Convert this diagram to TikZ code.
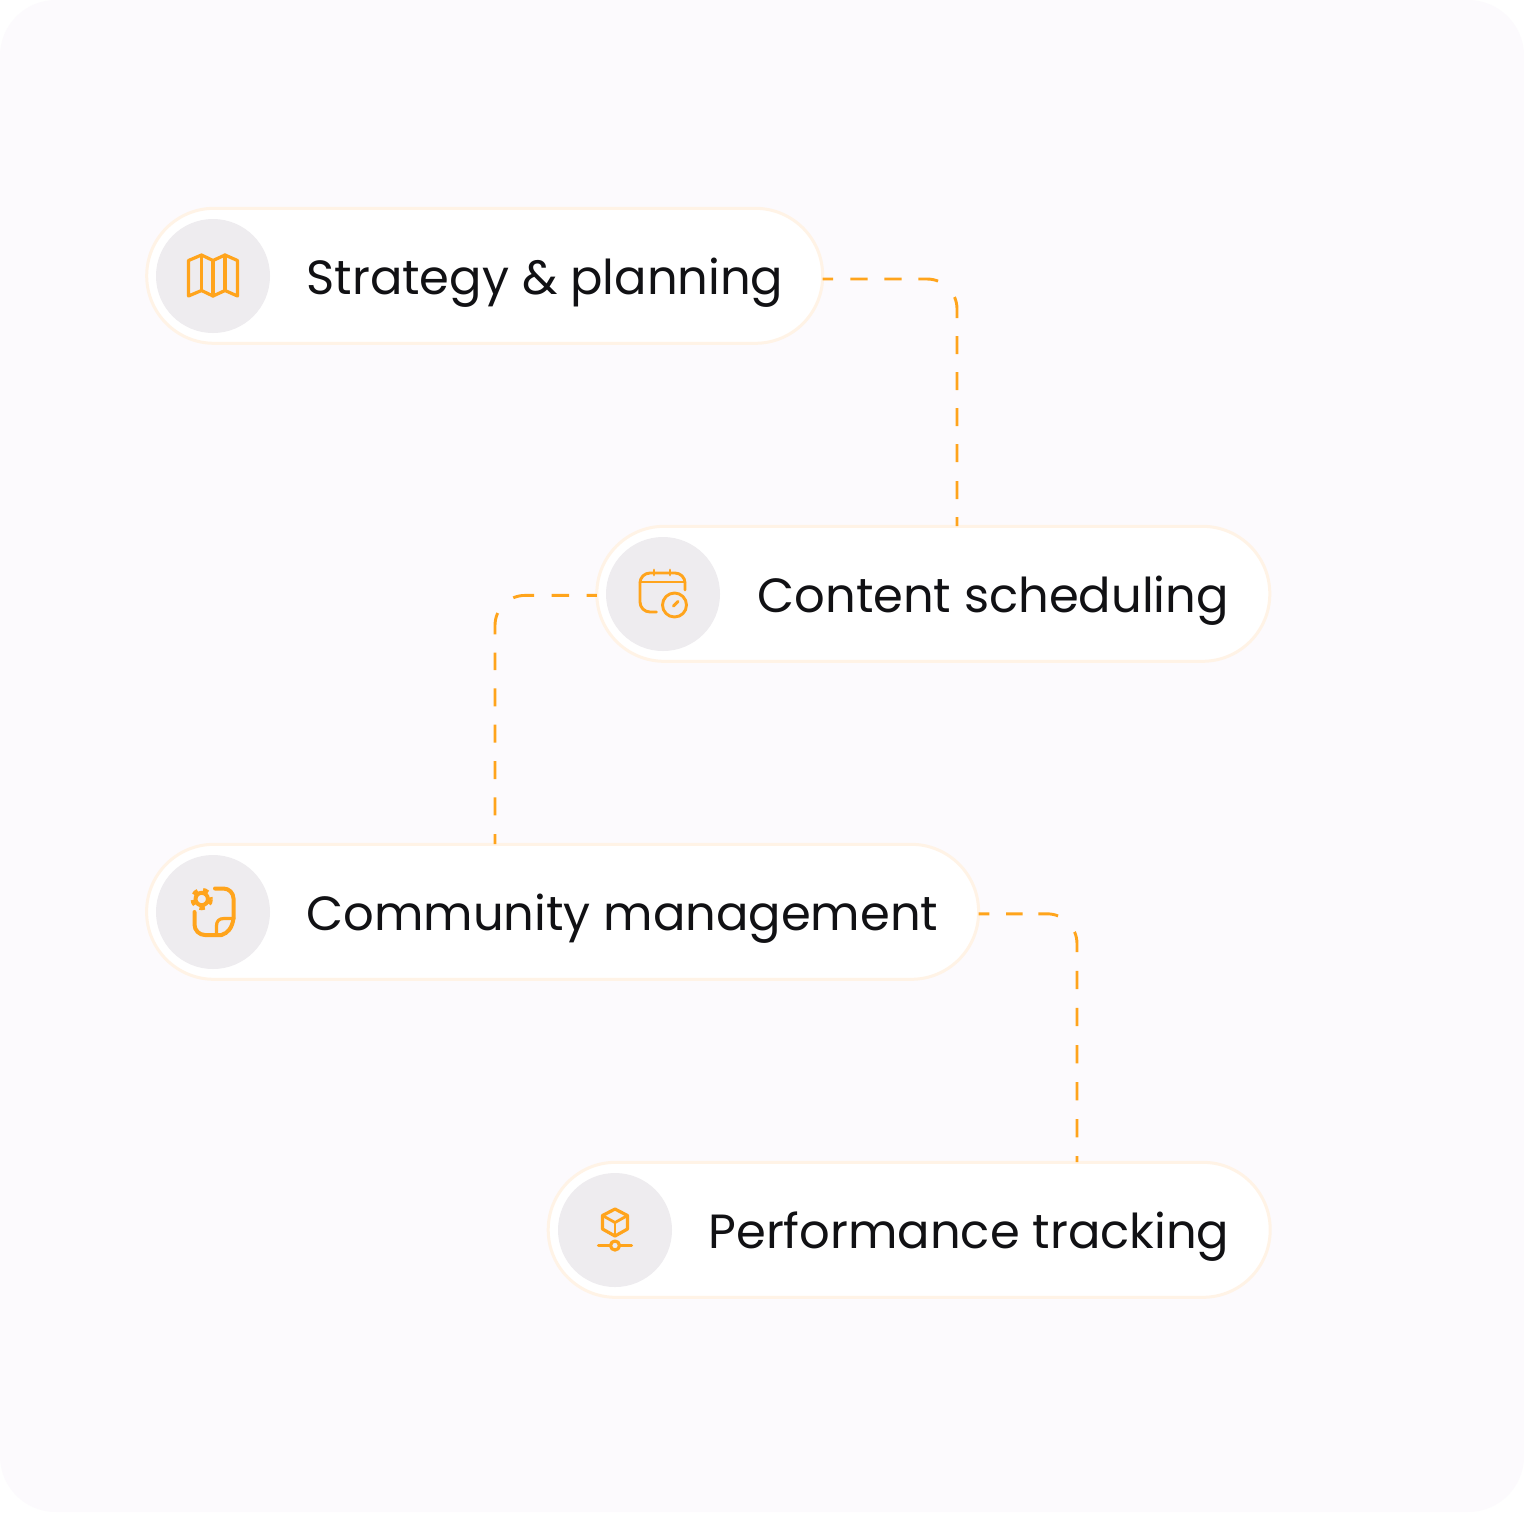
\documentclass[tikz,border=0pt]{standalone}
\usepackage{fontspec}
\setmainfont{Poppins}
\definecolor{pagebg}{HTML}{FCFAFD}
\definecolor{pillline}{HTML}{FFF3E6}
\definecolor{discfill}{HTML}{EEECEF}
\definecolor{accent}{HTML}{FFA41C}
\definecolor{inkc}{HTML}{111114}
\tikzset{
  x=0.5pt,y=-0.5pt,
  pill/.style={draw=pillline,fill=white,line width=1.5pt,rounded corners=33.7pt,minimum height=67.5pt,outer sep=0pt,inner sep=0pt},
  disc/.style={circle,fill=discfill,minimum size=57pt,inner sep=0pt,outer sep=0pt},
  label/.style={anchor=base west,inner sep=0pt,outer sep=0pt,text=inkc,font=\fontsize{24pt}{28pt}\selectfont},
  dashline/.style={draw=accent,line width=1.45pt,rounded corners=15pt},
  dashfirst/.style={dash pattern=on 5.15pt off 8.65pt on 8.7pt off 8.3pt on 8.7pt off 8.3pt on 10pt off 11.75pt on 10.65pt off 9pt on 9pt off 9pt on 9pt off 9pt on 9pt off 9pt on 9pt off 9.5pt on 9pt off 9pt on 10pt off 20pt},
  dashsecond/.style={dash pattern=on 5.05pt off 8.85pt on 8.65pt off 8.85pt on 10.5pt off 11.15pt on 10.85pt off 9.2pt on 8.65pt off 9.15pt on 9pt off 9.2pt on 9pt off 9.15pt on 9pt off 9.2pt on 9pt off 9.3pt on 5pt off 20pt},
  dashthird/.style={dash pattern=on 5.35pt off 8.35pt on 8.35pt off 7.8pt on 10pt off 11.75pt on 10.3pt off 9.35pt on 9.15pt off 9.4pt on 9.15pt off 9.4pt on 9.15pt off 9.35pt on 9.15pt off 9.4pt on 9.15pt off 9.4pt on 5pt off 20pt},
  icon/.style={draw=accent,line width=1.6pt,line cap=round,line join=round},
}
\begin{document}
\begin{tikzpicture}
\useasboundingbox (0,0) rectangle (1524,1512);
\fill[white] (0,0) rectangle (1524,1512);
\fill[pagebg,rounded corners=28pt] (0,0) rectangle (1524,1512);

% pills
\node[pill,minimum width=338pt] (p1) at (484.7,275.8) {};
\node[pill,minimum width=336.5pt] (p2) at (933.3,593.8) {};
\node[pill,minimum width=416pt] (p3) at (562.6,911.8) {};
\node[pill,minimum width=361pt] (p4) at (909.2,1229.8) {};

% discs
\node[disc] (d1) at (213,276) {};
\node[disc] (d2) at (663,594) {};
\node[disc] (d3) at (213,912) {};
\node[disc] (d4) at (615,1230) {};

% labels
\node[label] (t1) at (306.5,294.5) {Strategy \& planning};
\node[label] (t2) at (757.5,612.5) {Content scheduling};
\node[label] (t3) at (306.5,930.5) {Community management};
\node[label] (t4) at (708.5,1248.5) {Performance tracking};

% connector ends
\coordinate (c1) at (957,526);
\coordinate (c2) at (495,844);
\coordinate (c3) at (1077,1162);

% connectors
\draw[dashline,dashfirst] ([yshift=-1.6pt]p1.east) -| (c1);
\draw[dashline,dashsecond] ([yshift=-0.8pt]p2.west) -| (c2);
\draw[dashline,dashthird] ([yshift=-1pt]p3.east) -| (c3);

% map icon
\draw[icon] (188.5,260.5) -- (201.5,255) -- (213,260.5) -- (225,255) -- (237.5,260.5) -- (237.5,296) -- (225,290.5) -- (213,296) -- (201.5,290.5) -- (188.5,296) -- cycle;
\draw[icon] (201.5,255) -- (201.5,290.5);
\draw[icon] (213,260.5) -- (213,296);
\draw[icon] (225,255) -- (225,290.5);

% calendar icon
\draw[icon,line width=1.45pt] (685,590) -- (685,583) arc[start angle=0,end angle=-90,radius=10] -- (650,573) arc[start angle=-90,end angle=-180,radius=10] -- (640,602) arc[start angle=180,end angle=90,radius=10] -- (656.5,612);
\draw[icon,line width=1.45pt] (640,582) -- (685,582);
\draw[icon,line width=1.45pt] (654,570) -- (654,575);
\draw[icon,line width=1.45pt] (670,570) -- (670,575);
\draw[icon,line width=1.45pt] (674.5,605) circle[radius=12];
\draw[icon,line width=1.45pt] (673.5,606) -- (678,601.5);

% document and gear icon
\draw[icon,line width=2pt] (215,888.5) -- (223.5,888.5) arc[start angle=-90,end angle=0,radius=10] -- (233.5,918.5);
\draw[icon,line width=2pt] (233.5,918.5) .. controls (232,928) and (228,933) .. (221.5,935) -- (205,935) arc[start angle=90,end angle=180,radius=10.5] -- (194.5,912);
\draw[icon,line width=1.6pt] (233.5,918.5) -- (224,918.5) .. controls (219,918.5) and (216.5,921) .. (216.5,926) -- (216.5,935);
\draw[draw=accent,line width=2.6pt,dash pattern=on 2.6pt off 2.6pt] (201.7,899) circle[radius=8.6];
\draw[icon,line width=2pt] (201.7,899) circle[radius=6.2];

% cube and slider icon
\draw[icon] (615,1209) -- (627.5,1215.5) -- (627.5,1229) -- (615,1236) -- (602.5,1229) -- (602.5,1215.5) -- cycle;
\draw[icon,line width=1.4pt] (602.5,1215.5) -- (615,1222.5) -- (627.5,1215.5);
\draw[icon,line width=1.4pt] (615,1222.5) -- (615,1236);
\draw[icon] (598.5,1245.5) -- (610.5,1245.5);
\draw[icon] (619.5,1245.5) -- (631.5,1245.5);
\draw[icon] (615,1245.5) circle[radius=4.5];
\end{tikzpicture}
\end{document}
